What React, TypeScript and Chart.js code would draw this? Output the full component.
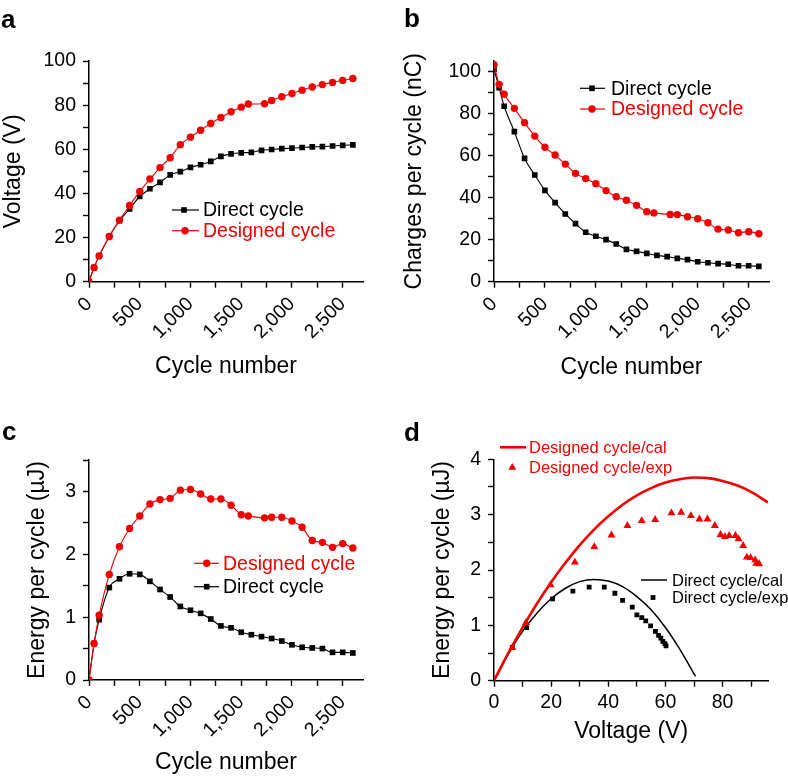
import React, { useEffect, useRef } from 'react';
import { Chart, registerables } from 'chart.js';

Chart.register(...registerables);

const FONT = '"Liberation Sans", Arial, Helvetica, sans-serif';
const RED = '#f20000';
const BLACK = '#000000';

// ---------- data ----------
const cycleDirect = [0, 50, 100, 200, 300, 400, 500, 600, 700, 800, 900, 1000, 1100, 1200, 1300, 1400, 1500, 1600, 1700, 1800, 1900, 2000, 2100, 2200, 2300, 2400, 2500, 2600];
const cycleDesigned = [0, 50, 100, 200, 300, 400, 500, 600, 700, 800, 900, 1000, 1100, 1200, 1300, 1400, 1500, 1570, 1730, 1800, 1900, 2000, 2100, 2200, 2300, 2400, 2500, 2600];

const voltageDirect = [0, 6.4, 11.7, 20.5, 27.6, 33.0, 38.6, 42.1, 45.0, 48.4, 49.9, 51.8, 53.0, 54.5, 56.8, 57.9, 58.4, 58.6, 59.5, 59.9, 60.3, 60.5, 60.8, 61.1, 61.2, 61.5, 61.8, 62.0];
const voltageDesigned = [0, 6.4, 11.7, 20.5, 27.9, 34.5, 40.9, 46.5, 51.7, 56.2, 62.1, 65.5, 68.6, 71.7, 74.4, 77.0, 79.1, 80.5, 80.6, 82.1, 83.8, 85.3, 86.8, 88.2, 89.3, 90.3, 91.2, 92.1];

const chargeDirect = [101, 92.2, 83.4, 71.3, 58.6, 50.7, 43.4, 37.6, 32.2, 27.6, 23.5, 21.6, 20.0, 17.9, 15.4, 14.4, 13.5, 12.5, 11.9, 11.1, 10.5, 9.5, 9.0, 8.6, 8.3, 7.6, 7.6, 7.3];
const chargeDesigned = [103.1, 93.8, 89.1, 82.4, 75.6, 69.2, 63.9, 60.2, 55.9, 51.5, 49.0, 46.6, 43.3, 40.4, 38.7, 36.3, 33.3, 32.7, 32.0, 31.9, 30.9, 29.9, 28.0, 25.0, 24.6, 23.3, 23.8, 22.8];

const energyDirect = [0, 0.58, 0.96, 1.47, 1.61, 1.69, 1.68, 1.57, 1.44, 1.32, 1.17, 1.11, 1.06, 0.97, 0.86, 0.83, 0.76, 0.72, 0.69, 0.66, 0.62, 0.56, 0.52, 0.51, 0.50, 0.44, 0.44, 0.43];
const energyDesigned = [0, 0.58, 1.03, 1.68, 2.12, 2.41, 2.61, 2.80, 2.87, 2.89, 3.02, 3.03, 2.96, 2.88, 2.88, 2.78, 2.63, 2.61, 2.58, 2.59, 2.59, 2.53, 2.43, 2.22, 2.19, 2.11, 2.17, 2.10];

const calDesignedV = [0, 5, 10, 15, 20, 25, 30, 35, 40, 45, 50, 55, 60, 65, 70, 75, 80, 85, 90, 95.9];
const calDesignedE = [0, 0.5, 0.96, 1.39, 1.78, 2.13, 2.45, 2.73, 2.97, 3.18, 3.35, 3.48, 3.58, 3.64, 3.67, 3.66, 3.61, 3.53, 3.41, 3.22];
const calDirectV = [0, 5, 10, 15, 20, 25, 30, 35, 40, 45, 50, 55, 60, 65, 70.5];
const calDirectE = [0, 0.48, 0.89, 1.22, 1.48, 1.67, 1.79, 1.83, 1.8, 1.7, 1.52, 1.28, 0.96, 0.57, 0.08];

const expDesignedV = [6.4, 11.2, 19.8, 28.3, 35.1, 41.1, 46.7, 51.7, 56.4, 62.1, 65.5, 68.9, 71.9, 74.7, 77.3, 79.3, 80.8, 82.3, 84.5, 85.6, 87.2, 88.5, 89.8, 91.4, 91.8, 92.8];
const expDesignedE = [0.6, 1.05, 1.73, 2.14, 2.42, 2.63, 2.8, 2.89, 2.91, 3.03, 3.04, 2.98, 2.92, 2.92, 2.8, 2.64, 2.6, 2.62, 2.62, 2.56, 2.44, 2.23, 2.22, 2.18, 2.12, 2.11];
const expDirectV = [6.4, 11.4, 20.5, 27.6, 33.3, 38.6, 42.3, 45.0, 48.4, 50.0, 51.7, 53.1, 54.8, 56.5, 57.6, 58.4, 59.1, 59.8, 60.2];
const expDirectE = [0.6, 0.96, 1.48, 1.62, 1.69, 1.69, 1.58, 1.45, 1.33, 1.19, 1.14, 1.08, 0.99, 0.89, 0.82, 0.77, 0.71, 0.67, 0.63];

// ticks
const cycleTickValues = [0, 250, 500, 750, 1000, 1250, 1500, 1750, 2000, 2250, 2500];
const cycleMajor = [0, 500, 1000, 1500, 2000, 2500];
const cycleLabels = ['0', '500', '1,000', '1,500', '2,000', '2,500'];
const voltTickValues = [0, 10, 20, 30, 40, 50, 60, 70, 80, 90, 100];
const chargeTickValues = [0, 10, 20, 30, 40, 50, 60, 70, 80, 90, 100];
const hundredMajor = [0, 20, 40, 60, 80, 100];
const hundredLabels = ['0', '20', '40', '60', '80', '100'];
const energyTickValuesC = [0, 0.5, 1, 1.5, 2, 2.5, 3, 3.5];
const energyMajorC = [0, 1, 2, 3];
const energyLabelsC = ['0', '1', '2', '3'];
const energyTickValuesD = [0, 0.5, 1, 1.5, 2, 2.5, 3, 3.5, 4];
const energyMajorD = [0, 1, 2, 3, 4];
const energyLabelsD = ['0', '1', '2', '3', '4'];
const voltXTickValues = [0, 10, 20, 30, 40, 50, 60, 70, 80, 90];
const voltXMajor = [0, 20, 40, 60, 80];
const voltXLabels = ['0', '20', '40', '60', '80'];

// ---------- helpers ----------
type Pt = { x: number; y: number };
const pts = (xs: number[], ys: number[]): Pt[] => xs.map((x, i) => ({ x, y: ys[i] }));

type LegendItem = {
  y: number;
  color: string;
  text: string;
  textX: number;
  line?: [number, number];
  lineWidth?: number;
  marker?: 'circle' | 'rect' | 'triangle';
  markerX?: number;
  markerR?: number;
};

function drawMarker(ctx: CanvasRenderingContext2D, kind: string, x: number, y: number, r: number) {
  ctx.beginPath();
  if (kind === 'circle') {
    ctx.arc(x, y, r, 0, Math.PI * 2);
  } else if (kind === 'rect') {
    const s = r * Math.SQRT1_2;
    ctx.rect(x - s, y - s, 2 * s, 2 * s);
  } else {
    ctx.moveTo(x, y - r);
    ctx.lineTo(x + r * 0.866, y + r * 0.5);
    ctx.lineTo(x - r * 0.866, y + r * 0.5);
    ctx.closePath();
  }
  ctx.fill();
}

function makeLegendPlugin(items: LegendItem[], ox: number, oy: number, fontSize: number) {
  return {
    id: 'inlineLegend',
    afterDraw(chart: any) {
      const ctx: CanvasRenderingContext2D = chart.ctx;
      ctx.save();
      for (const it of items) {
        const y = it.y - oy;
        ctx.strokeStyle = it.color;
        ctx.fillStyle = it.color;
        if (it.line) {
          ctx.lineWidth = it.lineWidth ?? 1.2;
          ctx.beginPath();
          ctx.moveTo(it.line[0] - ox, y);
          ctx.lineTo(it.line[1] - ox, y);
          ctx.stroke();
        }
        if (it.marker) {
          drawMarker(ctx, it.marker, (it.markerX as number) - ox, y, it.markerR ?? 3.5);
        }
        ctx.font = `${fontSize}px ${FONT}`;
        ctx.textBaseline = 'middle';
        ctx.textAlign = 'left';
        ctx.fillText(it.text, it.textX - ox, y + 1);
      }
      ctx.restore();
    },
  };
}

type PanelSpec = {
  box: { left: number; top: number; w: number; h: number };
  area: { left: number; top: number; right: number; bottom: number };
  x: { min: number; max: number; ticks: number[]; major: number[]; labels: string[]; rotate: boolean; title: string; titlePad: number };
  y: { min: number; max: number; ticks: number[]; major: number[]; labels: string[]; title: string; titlePad: number };
  datasets: any[];
  legend: LegendItem[];
  legendFont: number;
};

function labelFor(major: number[], labels: string[]) {
  return (v: number | string) => {
    const n = Number(v);
    const i = major.findIndex((m) => Math.abs(m - n) < 1e-9);
    return i >= 0 ? labels[i] : '';
  };
}

function Panel({ spec }: { spec: PanelSpec }) {
  const ref = useRef<HTMLCanvasElement | null>(null);
  useEffect(() => {
    const canvas = ref.current;
    if (!canvas) return;
    const { box, area } = spec;
    const yWidth = area.left - box.left;
    const xHeight = box.top + box.h - area.bottom;
    const tickFont = { family: FONT, size: 19.5 };
    const titleFont = { family: FONT, size: 23 };
    const grid = {
      drawOnChartArea: false,
      drawTicks: true,
      tickLength: 6,
      tickWidth: 1.4,
      tickColor: BLACK,
    };
    const border = { display: true, color: BLACK, width: 1.5 };
    const chart = new Chart(canvas, {
      type: 'scatter',
      data: { datasets: spec.datasets },
      plugins: [makeLegendPlugin(spec.legend, box.left, box.top, spec.legendFont)],
      options: {
        animation: false,
        responsive: false,
        devicePixelRatio: 1,
        events: [],
        layout: {
          padding: {
            left: 0,
            top: area.top - box.top,
            right: box.left + box.w - area.right,
            bottom: 0,
          },
        },
        plugins: { legend: { display: false }, tooltip: { enabled: false } },
        scales: {
          x: {
            type: 'linear',
            min: spec.x.min,
            max: spec.x.max,
            grid,
            border,
            afterBuildTicks: (s: any) => {
              s.ticks = spec.x.ticks.map((v) => ({ value: v }));
            },
            afterFit: (s: any) => {
              s.height = xHeight;
            },
            ticks: {
              autoSkip: false,
              color: BLACK,
              font: tickFont,
              padding: spec.x.rotate ? 5 : 4,
              minRotation: spec.x.rotate ? 45 : 0,
              maxRotation: spec.x.rotate ? 45 : 0,
              callback: labelFor(spec.x.major, spec.x.labels),
            },
            title: {
              display: true,
              text: spec.x.title,
              color: BLACK,
              font: titleFont,
              padding: { top: 0, bottom: spec.x.titlePad },
            },
          },
          y: {
            type: 'linear',
            min: spec.y.min,
            max: spec.y.max,
            grid,
            border,
            afterBuildTicks: (s: any) => {
              s.ticks = spec.y.ticks.map((v) => ({ value: v }));
            },
            afterFit: (s: any) => {
              s.width = yWidth;
            },
            ticks: {
              autoSkip: false,
              color: BLACK,
              font: tickFont,
              padding: 7,
              callback: labelFor(spec.y.major, spec.y.labels),
            },
            title: {
              display: true,
              text: spec.y.title,
              color: BLACK,
              font: titleFont,
              padding: { top: spec.y.titlePad, bottom: 0 },
            },
          },
        },
      } as any,
    });
    return () => chart.destroy();
  }, [spec]);
  const { box } = spec;
  return (
    <canvas
      ref={ref}
      width={box.w}
      height={box.h}
      style={{ position: 'absolute', left: box.left, top: box.top, width: box.w, height: box.h }}
    />
  );
}

const lineDs = (label: string, data: Pt[], color: string, style: string, r: number) => ({
  label,
  data,
  showLine: true,
  borderColor: color,
  backgroundColor: color,
  borderWidth: 1.1,
  pointStyle: style,
  pointRadius: r,
  pointBorderWidth: 0,
  cubicInterpolationMode: 'monotone',
});

const specA: PanelSpec = {
  box: { left: 0, top: 0, w: 394, h: 390 },
  area: { left: 89, top: 61, right: 363, bottom: 281.7 },
  x: { min: 0, max: 2700, ticks: cycleTickValues, major: cycleMajor, labels: cycleLabels, rotate: true, title: 'Cycle number', titlePad: 9.5 },
  y: { min: 0, max: 100, ticks: voltTickValues, major: hundredMajor, labels: hundredLabels, title: 'Voltage (V)', titlePad: 0 },
  datasets: [
    lineDs('Designed cycle', pts(cycleDesigned, voltageDesigned), RED, 'circle', 3.7),
    lineDs('Direct cycle', pts(cycleDirect, voltageDirect), BLACK, 'rect', 4),
  ],
  legend: [
    { y: 210, color: BLACK, text: 'Direct cycle', textX: 203, line: [172, 199], marker: 'rect', markerX: 184, markerR: 4 },
    { y: 230.7, color: RED, text: 'Designed cycle', textX: 203, line: [172, 199], marker: 'circle', markerX: 185, markerR: 3.7 },
  ],
  legendFont: 19.5,
};

const specB: PanelSpec = {
  box: { left: 394, top: 0, w: 394, h: 390 },
  area: { left: 494, top: 60.8, right: 769, bottom: 281.7 },
  x: { min: 0, max: 2700, ticks: cycleTickValues, major: cycleMajor, labels: cycleLabels, rotate: true, title: 'Cycle number', titlePad: 8.9 },
  y: { min: 0, max: 105, ticks: chargeTickValues, major: hundredMajor, labels: hundredLabels, title: 'Charges per cycle (nC)', titlePad: 7 },
  datasets: [
    lineDs('Designed cycle', pts(cycleDesigned, chargeDesigned), RED, 'circle', 3.7),
    lineDs('Direct cycle', pts(cycleDirect, chargeDirect), BLACK, 'rect', 4),
  ],
  legend: [
    { y: 88.3, color: BLACK, text: 'Direct cycle', textX: 611, line: [580, 605], marker: 'rect', markerX: 592, markerR: 4 },
    { y: 109, color: RED, text: 'Designed cycle', textX: 611, line: [580, 605], marker: 'circle', markerX: 592, markerR: 3.7 },
  ],
  legendFont: 19.5,
};

const specC: PanelSpec = {
  box: { left: 0, top: 390, w: 394, h: 387 },
  area: { left: 89, top: 460, right: 363, bottom: 680 },
  x: { min: 0, max: 2700, ticks: cycleTickValues, major: cycleMajor, labels: cycleLabels, rotate: true, title: 'Cycle number', titlePad: 0.5 },
  y: { min: 0, max: 3.5, ticks: energyTickValuesC, major: energyMajorC, labels: energyLabelsC, title: 'Energy per cycle (\u00b5J)', titlePad: 24 },
  datasets: [
    lineDs('Designed cycle', pts(cycleDesigned, energyDesigned), RED, 'circle', 3.7),
    lineDs('Direct cycle', pts(cycleDirect, energyDirect), BLACK, 'rect', 4),
  ],
  legend: [
    { y: 563.3, color: RED, text: 'Designed cycle', textX: 223, line: [194, 219], marker: 'circle', markerX: 206.7, markerR: 3.7 },
    { y: 586.7, color: BLACK, text: 'Direct cycle', textX: 223, line: [194, 219], marker: 'rect', markerX: 206.7, markerR: 4 },
  ],
  legendFont: 19.5,
};

const specD: PanelSpec = {
  box: { left: 394, top: 390, w: 394, h: 387 },
  area: { left: 494, top: 459.3, right: 768.3, bottom: 680.7 },
  x: { min: 0, max: 96, ticks: voltXTickValues, major: voltXMajor, labels: voltXLabels, rotate: false, title: 'Voltage (V)', titlePad: 31.5 },
  y: { min: 0, max: 4, ticks: energyTickValuesD, major: energyMajorD, labels: energyLabelsD, title: 'Energy per cycle (\u00b5J)', titlePad: 35 },
  datasets: [
    {
      label: 'Designed cycle/exp',
      data: pts(expDesignedV, expDesignedE),
      showLine: false,
      pointStyle: 'triangle',
      pointRadius: 4.6,
      pointBorderWidth: 0,
      backgroundColor: RED,
      borderColor: RED,
    },
    {
      label: 'Designed cycle/cal',
      data: pts(calDesignedV, calDesignedE),
      showLine: true,
      borderColor: RED,
      borderWidth: 2.6,
      pointRadius: 0,
      cubicInterpolationMode: 'monotone',
    },
    {
      label: 'Direct cycle/exp',
      data: pts(expDirectV, expDirectE),
      showLine: false,
      pointStyle: 'rect',
      pointRadius: 3.4,
      pointBorderWidth: 0,
      backgroundColor: BLACK,
      borderColor: BLACK,
    },
    {
      label: 'Direct cycle/cal',
      data: pts(calDirectV, calDirectE),
      showLine: true,
      borderColor: BLACK,
      borderWidth: 1.5,
      pointRadius: 0,
      cubicInterpolationMode: 'monotone',
    },
  ],
  legend: [
    { y: 447.3, color: RED, text: 'Designed cycle/cal', textX: 529, line: [500, 526], lineWidth: 2.6 },
    { y: 467.5, color: RED, text: 'Designed cycle/exp', textX: 529, marker: 'triangle', markerX: 512.3, markerR: 4.6 },
    { y: 580, color: BLACK, text: 'Direct cycle/cal', textX: 672, line: [641, 667], lineWidth: 1.5 },
    { y: 597.5, color: BLACK, text: 'Direct cycle/exp', textX: 672, marker: 'rect', markerX: 653, markerR: 3.4 },
  ],
  legendFont: 16.5,
};

const letterStyle = (left: number, top: number): React.CSSProperties => ({
  position: 'absolute',
  left,
  top,
  fontFamily: FONT,
  fontWeight: 'bold',
  fontSize: 26,
  lineHeight: '26px',
  color: BLACK,
});

export default function App() {
  return (
    <div style={{ position: 'fixed', left: 0, top: 0, width: 788, height: 777, background: '#fff', overflow: 'hidden' }}>
      <Panel spec={specA} />
      <Panel spec={specB} />
      <Panel spec={specC} />
      <Panel spec={specD} />
      <div style={letterStyle(1, 6)}>a</div>
      <div style={letterStyle(404, 5)}>b</div>
      <div style={letterStyle(2, 418)}>c</div>
      <div style={letterStyle(404, 419)}>d</div>
    </div>
  );
}
